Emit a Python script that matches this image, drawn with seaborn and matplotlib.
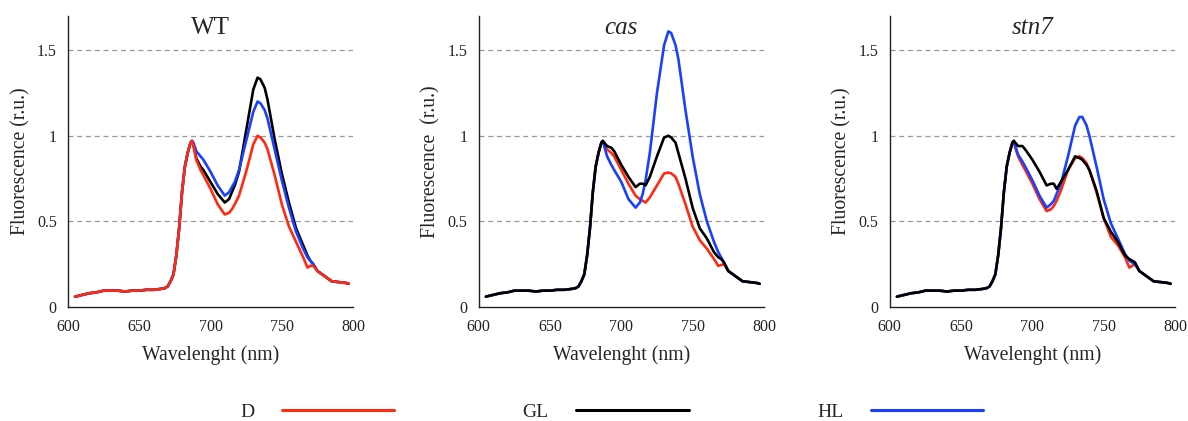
import matplotlib
matplotlib.use('Agg')
import matplotlib.pyplot as plt
from matplotlib.lines import Line2D
import seaborn as sns
import pandas as pd

# wavelength grid (nm)
wl_rise = [605, 610, 615, 620, 625, 630, 635, 640, 645, 650, 655, 660, 665,
           668, 670, 672, 674, 676, 678, 680, 682, 684, 686, 687]
wl_mid = [688, 690, 693, 695, 700, 705, 710, 713, 715, 717, 720, 725, 730,
          733, 735, 738, 740, 745, 750, 755, 760, 765, 768, 770, 772]
wl_tail = [775, 780, 785, 790, 795, 797]

# shared part of every spectrum
rise = [0.06, 0.07, 0.08, 0.085, 0.095, 0.095, 0.095, 0.09, 0.095, 0.095, 0.10, 0.10, 0.105,
        0.11, 0.12, 0.15, 0.19, 0.30, 0.46, 0.67, 0.82, 0.90, 0.96, 0.97]
tail = [0.21, 0.18, 0.15, 0.145, 0.14, 0.135]

# WT
wt_D = [0.94, 0.86, 0.80, 0.77, 0.69, 0.60, 0.54, 0.55, 0.57, 0.60, 0.65, 0.79, 0.95,
        1.00, 0.99, 0.96, 0.92, 0.77, 0.60, 0.47, 0.38, 0.29, 0.23, 0.24, 0.24]
wt_GL = [0.95, 0.87, 0.82, 0.80, 0.73, 0.66, 0.61, 0.63, 0.67, 0.71, 0.79, 1.03, 1.27,
         1.34, 1.33, 1.28, 1.21, 0.98, 0.78, 0.61, 0.46, 0.36, 0.30, 0.27, 0.25]
wt_HL = [0.96, 0.91, 0.88, 0.86, 0.79, 0.71, 0.65, 0.67, 0.70, 0.73, 0.80, 0.97, 1.14,
         1.20, 1.19, 1.15, 1.10, 0.92, 0.74, 0.58, 0.44, 0.34, 0.29, 0.27, 0.25]
# cas
cas_D = [0.95, 0.92, 0.90, 0.88, 0.80, 0.72, 0.65, 0.63, 0.62, 0.61, 0.64, 0.71, 0.78,
         0.785, 0.78, 0.76, 0.72, 0.60, 0.47, 0.39, 0.34, 0.28, 0.24, 0.245, 0.25]
cas_GL = [0.96, 0.94, 0.93, 0.91, 0.83, 0.76, 0.70, 0.72, 0.72, 0.71, 0.76, 0.88, 0.99,
          1.00, 0.99, 0.96, 0.90, 0.75, 0.58, 0.46, 0.40, 0.32, 0.29, 0.28, 0.26]
cas_HL = [0.94, 0.88, 0.83, 0.80, 0.73, 0.63, 0.58, 0.61, 0.66, 0.74, 0.90, 1.25, 1.53,
          1.61, 1.60, 1.53, 1.45, 1.15, 0.88, 0.66, 0.50, 0.38, 0.32, 0.29, 0.26]
# stn7
stn7_D = [0.93, 0.88, 0.83, 0.80, 0.72, 0.63, 0.56, 0.57, 0.59, 0.62, 0.68, 0.80, 0.87,
          0.88, 0.87, 0.84, 0.80, 0.67, 0.52, 0.41, 0.36, 0.29, 0.23, 0.24, 0.25]
stn7_GL = [0.96, 0.94, 0.94, 0.92, 0.86, 0.79, 0.71, 0.72, 0.72, 0.69, 0.73, 0.80, 0.88,
           0.87, 0.86, 0.83, 0.80, 0.68, 0.52, 0.44, 0.38, 0.30, 0.28, 0.27, 0.26]
stn7_HL = [0.94, 0.89, 0.85, 0.82, 0.74, 0.65, 0.58, 0.60, 0.62, 0.66, 0.72, 0.88, 1.06,
           1.11, 1.11, 1.06, 1.00, 0.82, 0.63, 0.49, 0.40, 0.31, 0.27, 0.26, 0.25]

titles = ['WT', 'cas', 'stn7']
ylabels = ['Fluorescence (r.u.)', 'Fluorescence  (r.u.)', 'Fluorescence (r.u.)']
conditions = ['D', 'GL', 'HL']
colors = {'D': '#ff2a10', 'GL': '#000000', 'HL': '#1a40ff'}
panels = {'WT': {'D': wt_D, 'GL': wt_GL, 'HL': wt_HL},
          'cas': {'D': cas_D, 'GL': cas_GL, 'HL': cas_HL},
          'stn7': {'D': stn7_D, 'GL': stn7_GL, 'HL': stn7_HL}}
draw_order = {'WT': ['GL', 'HL', 'D'], 'cas': ['D', 'HL', 'GL'], 'stn7': ['D', 'HL', 'GL']}

wl = wl_rise + wl_mid + wl_tail

sns.set_style('white')
plt.rcParams['font.family'] = ['Liberation Serif', 'DejaVu Serif']

fig = plt.figure(figsize=(11.88, 4.21), dpi=100)
lefts = [0.0572, 0.403, 0.749]

for i, name in enumerate(titles):
    ax = fig.add_axes([lefts[i], 0.271, 0.240, 0.691])
    for cond in draw_order[name]:
        df = pd.DataFrame({'wl': wl, 'f': rise + panels[name][cond] + tail})
        sns.lineplot(data=df, x='wl', y='f', color=colors[cond], linewidth=1.9, ax=ax)
    ax.set_xlim(600, 800)
    ax.set_ylim(0, 1.7)
    ax.set_xticks([600, 650, 700, 750, 800])
    ax.set_yticks([0, 0.5, 1, 1.5])
    ax.set_yticklabels(['0', '0.5', '1', '1.5'])
    for yv in [0.5, 1, 1.5]:
        ax.axhline(yv, color='#999999', linestyle=(0, (4, 3)), linewidth=0.9, zorder=0)
    sns.despine(ax=ax)
    for s in ['left', 'bottom']:
        ax.spines[s].set_color('#222222')
        ax.spines[s].set_linewidth(1.0)
    ax.tick_params(axis='x', direction='out', length=3, width=1, color='#222222',
                   labelsize=11.5, pad=6, labelcolor='#222222')
    ax.tick_params(axis='y', direction='out', length=5, width=1, color='#222222',
                   labelsize=11.5, pad=3, labelcolor='#222222')
    ax.set_xlabel('Wavelenght (nm)', fontsize=14.2, labelpad=7)
    ax.set_ylabel(ylabels[i], fontsize=14.2, labelpad=5)
    style = 'normal' if name == 'WT' else 'italic'
    ax.text(0.5, 0.96, name, transform=ax.transAxes, ha='center', va='center',
            fontsize=18, fontstyle=style)

handles = [Line2D([], [], color=colors[c], linewidth=2.2) for c in conditions]
fig.legend(handles, conditions, loc='center', bbox_to_anchor=(0.515, 0.022), ncol=3,
           frameon=False, markerfirst=False, fontsize=14, handlelength=5.8,
           handletextpad=1.4, columnspacing=6.6, borderpad=0)

fig.savefig('out.png', dpi=100)
